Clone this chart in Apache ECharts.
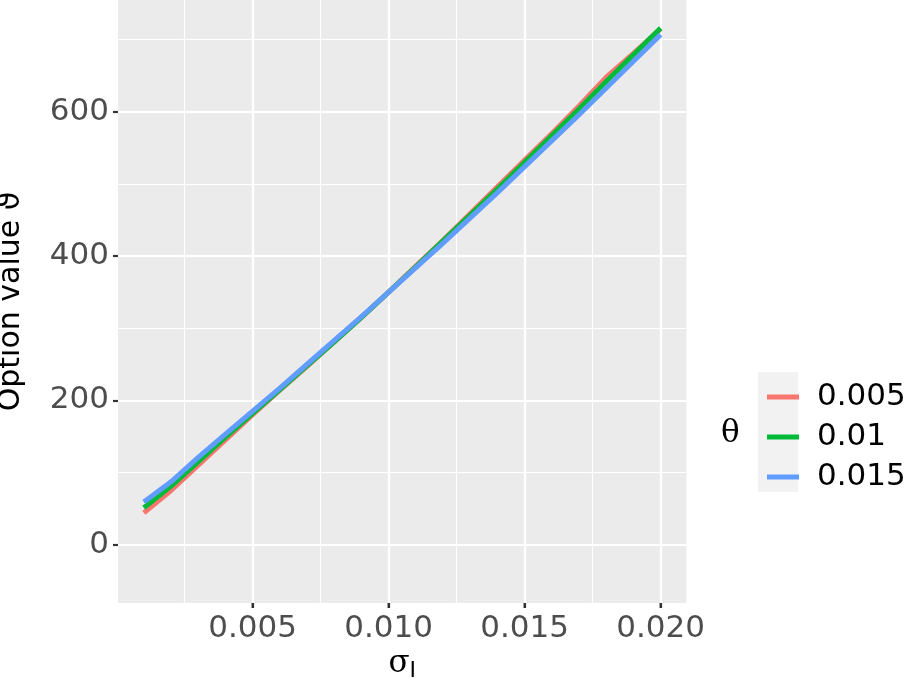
<!DOCTYPE html>
<html>
<head>
<meta charset="utf-8">
<script src="https://cdn.jsdelivr.net/npm/echarts@6/dist/echarts.min.js"></script>
<style>
html,body{margin:0;padding:0;background:#fff;}
#chart{width:907px;height:679px;}
</style>
</head>
<body>
<div id="chart"></div>
<script>
// Data
const sigma = [0.001,0.002,0.003,0.004,0.005,0.006,0.007,0.008,0.009,0.010,0.011,0.012,0.013,0.014,0.015,0.016,0.017,0.018,0.019,0.020];
const theta005 = [44,75,110,145,180,214,247,281,315,350,386,422,459,496,533,570,608,648,681,715];
const theta01  = [51,81,115,149,182,215,248,281,315,350,385,421,457,493,530,567,604,642,679,716];
const theta015 = [59,87,121,153,185,217,250,283,316,350,384,418,453,488,524,560,596,633,670,707];
const seriesNames = ['0.005','0.01','0.015'];
const seriesColors = ['#F8766D','#00BA38','#619CFF'];
const xMajorTicks = [0.005,0.010,0.015,0.020];
const xMinorTicks = [0.0025,0.0075,0.0125,0.0175];
const yMajorTicks = [0,200,400,600];
const yMinorTicks = [100,300,500,700];
const xRange = [0.00005, 0.02095];
const yRange = [-81, 755];

const FONT = 'DejaVu Sans, sans-serif';
const chart = echarts.init(document.getElementById('chart'), null, {renderer:'canvas'});

function toPairs(vals){ return sigma.map((s,i)=>[s, vals[i]]); }
const allVals = [theta005, theta01, theta015];

const lineSeries = seriesNames.map((n,i)=>({
  name:n, type:'line', data:toPairs(allVals[i]), showSymbol:false, symbol:'none',
  lineStyle:{color:seriesColors[i], width:5, cap:'butt', join:'round'},
  itemStyle:{color:seriesColors[i]}, z:2+i
}));

// x-axis tick marks, placed through the axis scale at the bottom of the panel
const xTickSeries = {
  type:'custom', name:'xticks', silent:true, clip:false, z:10,
  data: xMajorTicks.map(v=>[v]),
  encode:{x:0},
  renderItem:(params, api)=>{
    const p = api.coord([api.value(0), yRange[0]]);
    return {type:'line', shape:{x1:p[0], y1:p[1], x2:p[0], y2:p[1]+5},
            style:{stroke:'#333333', lineWidth:2.2}};
  }
};

const option = {
  backgroundColor: '#FFFFFF',
  animation: false,
  grid: {left:118, right:220.5, top:0, bottom:76, show:true, backgroundColor:'#EBEBEB', borderWidth:0,
         containLabel:false, outerBoundsMode:'none'},
  xAxis: [
    {
      type:'value', min:xRange[0], max:xRange[1], position:'bottom',
      name:'{s|σ}{i|I}', nameLocation:'middle', nameGap:40,
      nameTextStyle:{rich:{s:{fontFamily:'DejaVu Serif, serif', fontSize:31, color:'#000'}, i:{fontFamily:FONT, fontSize:22, color:'#000', verticalAlign:'bottom', padding:[14,0,0,0]}}},
      axisLine:{show:false, onZero:false},
      axisTick:{show:true, length:5, lineStyle:{color:'#333333', width:2.2}, customValues:xMajorTicks},
      axisLabel:{customValues:xMajorTicks, color:'#4D4D4D', fontSize:31, fontFamily:FONT, margin:10,
        formatter:v=>v.toFixed(3)},
      splitLine:{show:true, lineStyle:{color:'#FFFFFF', width:2.2}}
    },
    {
      type:'value', min:xRange[0], max:xRange[1], position:'top',
      axisLine:{show:false, onZero:false},
      axisTick:{show:false, customValues:xMinorTicks},
      axisLabel:{show:false, customValues:xMinorTicks},
      splitLine:{show:true, lineStyle:{color:'#FFFFFF', width:1.1}}
    }
  ],
  yAxis: [
    {
      type:'value', min:yRange[0], max:yRange[1], position:'left',
      name:'Option value ϑ', nameLocation:'middle', nameGap:92, nameRotate:90,
      nameTextStyle:{fontFamily:FONT, fontSize:30, color:'#000'},
      axisLine:{show:false, onZero:false},
      axisTick:{show:true, length:5, lineStyle:{color:'#333333', width:2.2}, customValues:yMajorTicks},
      axisLabel:{customValues:yMajorTicks, color:'#4D4D4D', fontSize:31, fontFamily:FONT, margin:9},
      splitLine:{show:true, lineStyle:{color:'#FFFFFF', width:2.2}}
    },
    {
      type:'value', min:yRange[0], max:yRange[1], position:'right',
      axisLine:{show:false, onZero:false},
      axisTick:{show:false, customValues:yMinorTicks},
      axisLabel:{show:false, customValues:yMinorTicks},
      splitLine:{show:true, lineStyle:{color:'#FFFFFF', width:1.1}}
    }
  ],
  legend: {
    orient:'vertical', left:762, top:372, itemWidth:32, itemHeight:5, itemGap:0,
    icon:'rect',
    textStyle:{fontFamily:FONT, fontSize:31, color:'#000', lineHeight:40, padding:[0,0,0,13]},
    data: seriesNames
  },
  graphic: [
    {type:'rect', z:-1, left:758, top:372, shape:{width:40, height:120}, style:{fill:'#F2F2F2'}},
    {type:'text', left:721, top:418, style:{text:'θ', fontFamily:'DejaVu Serif, serif', fontSize:31, fill:'#000'}}
  ],
  series: lineSeries.concat([xTickSeries])
};
chart.setOption(option);
</script>
</body>
</html>
